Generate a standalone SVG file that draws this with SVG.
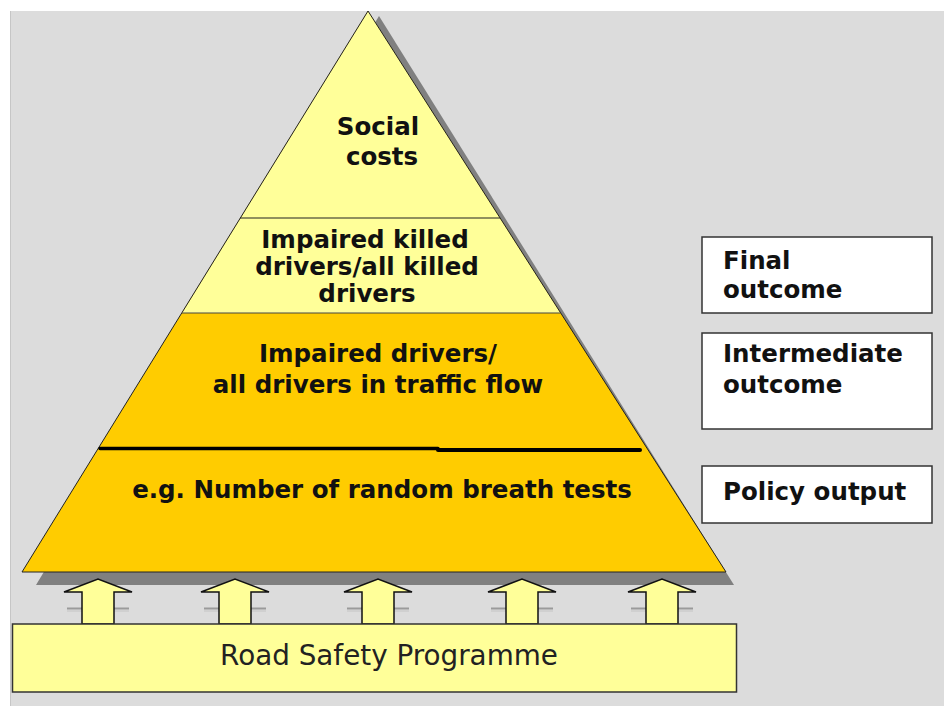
<svg xmlns="http://www.w3.org/2000/svg" width="944" height="706" viewBox="0 0 944 706">
  <style>
    .t { font-family: "DejaVu Sans", Verdana, "Liberation Sans", sans-serif; font-weight: bold; font-size: 24.5px; fill: #111; }
    .tc { text-anchor: middle; }
    .box { fill: #ffffff; stroke: #333333; stroke-width: 1.5; }
    .arrow { fill: #ffff99; stroke: #111; stroke-width: 1.5; stroke-linejoin: miter; }
    .tick { stroke: #9a9a9a; stroke-width: 2; }
    .tick2 { stroke: #c4c4c4; stroke-width: 1; }
  </style>
  <defs>
    <g id="arrowShape">
      <line class="tick" x1="-31" y1="608.5" x2="-16" y2="608.5"/>
      <line class="tick" x1="16" y1="608.5" x2="31" y2="608.5"/>
      <line class="tick2" x1="-31" y1="611" x2="-16" y2="611"/>
      <line class="tick2" x1="16" y1="611" x2="31" y2="611"/>
      <polygon class="arrow" points="-16,624 -16,592 -34,592 0,579 34,592 16,592 16,624"/>
    </g>
  </defs>

  <!-- background -->
  <rect x="0" y="0" width="944" height="706" fill="#ffffff"/>
  <rect x="10" y="11" width="934" height="695" fill="#dcdcdc"/>
  <line x1="10.5" y1="11" x2="10.5" y2="706" stroke="#c6c6c6" stroke-width="1"/>

  <!-- pyramid -->
  <g id="pyramid">
    <polygon points="379,16 734,585 36,585" fill="#808080"/>
    <polygon points="368,11 726,572 22,572" fill="#ffcc00"/>
    <polygon points="368,11 560.5,313 182,313" fill="#ffff99"/>
    <polygon points="368,11 726,572 22,572" fill="none" stroke="#222" stroke-width="1"/>
    <line x1="240" y1="218" x2="500" y2="218" stroke="#222" stroke-width="1.2"/>
    <line x1="182" y1="313" x2="560.5" y2="313" stroke="#444" stroke-width="1"/>
    <line x1="100" y1="448.5" x2="438" y2="448.5" stroke="#000" stroke-width="3.5" stroke-linecap="round"/>
    <line x1="438" y1="450" x2="640" y2="450" stroke="#000" stroke-width="4" stroke-linecap="round"/>
  </g>

  <g id="level-social-costs">
    <text class="t tc" x="378" y="135">Social</text>
    <text class="t tc" x="382" y="165">costs</text>
  </g>
  <g id="level-impaired-killed">
    <text class="t tc" x="365" y="248">Impaired killed</text>
    <text class="t tc" x="367" y="275">drivers/all killed</text>
    <text class="t tc" x="367" y="302">drivers</text>
  </g>
  <g id="level-impaired-drivers">
    <text class="t tc" x="378" y="362">Impaired drivers/</text>
    <text class="t tc" x="378" y="393">all drivers in traffic flow</text>
  </g>
  <g id="level-breath-tests">
    <text class="t tc" x="382" y="498">e.g. Number of random breath tests</text>
  </g>

  <!-- right labels -->
  <g id="final-outcome">
    <rect class="box" x="702" y="237" width="230" height="76"/>
    <text class="t" x="723" y="269">Final</text>
    <text class="t" x="723" y="298">outcome</text>
  </g>
  <g id="intermediate-outcome">
    <rect class="box" x="702" y="333" width="230" height="96"/>
    <text class="t" x="723" y="362">Intermediate</text>
    <text class="t" x="723" y="393">outcome</text>
  </g>
  <g id="policy-output">
    <rect class="box" x="702" y="466" width="230" height="57"/>
    <text class="t" x="723" y="500">Policy output</text>
  </g>

  <!-- connectors: arrows from programme into pyramid -->
  <g id="connectors">
    <use href="#arrowShape" transform="translate(98,0)"/>
    <use href="#arrowShape" transform="translate(235,0)"/>
    <use href="#arrowShape" transform="translate(378,0)"/>
    <use href="#arrowShape" transform="translate(522,0)"/>
    <use href="#arrowShape" transform="translate(662,0)"/>
  </g>

  <g id="road-safety-programme">
    <rect x="12.5" y="624" width="724" height="68" fill="#ffff99" stroke="#333" stroke-width="1.5"/>
    <text x="389" y="665" text-anchor="middle" font-family="DejaVu Sans, Verdana, sans-serif" font-size="27.8" fill="#222">Road Safety Programme</text>
  </g>
</svg>
